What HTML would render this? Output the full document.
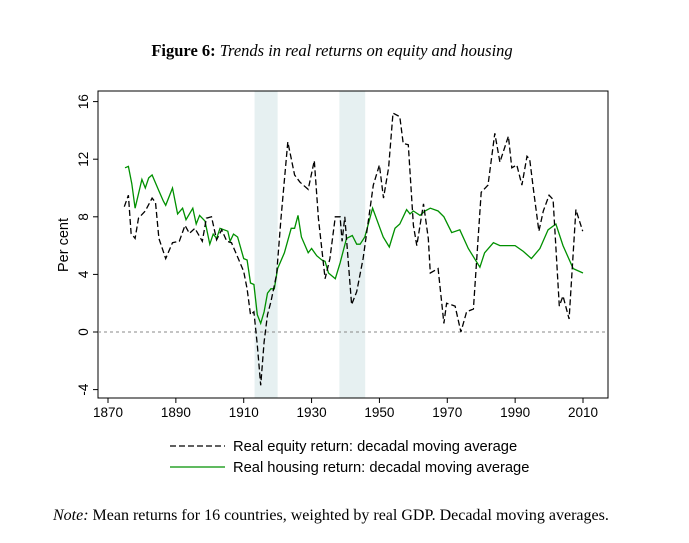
<!DOCTYPE html>
<html><head><meta charset="utf-8"><style>
body{margin:0;background:#fff;}
svg{display:block;}
</style></head><body>
<svg id="chart" width="689" height="543" xmlns="http://www.w3.org/2000/svg">
<text x="332" y="56" text-anchor="middle" font-family="Liberation Serif, serif" font-size="16.5"><tspan font-weight="bold">Figure 6:</tspan> <tspan font-style="italic">Trends in real returns on equity and housing</tspan></text>
<g id="plot"></g>
<text x="53" y="520" font-family="Liberation Serif, serif" font-size="16"><tspan font-style="italic">Note:</tspan> Mean returns for 16 countries, weighted by real GDP. Decadal moving averages.</text>
</svg>
<script>
const yTicks=[-4,0,4,8,12,16];
const xTicks=[1870,1890,1910,1930,1950,1970,1990,2010];
const recessions=[[1913.2,1920],[1938.2,1945.8]];
const equityYears=[1874.8,1876,1876.8,1878,1879,1881,1883,1884,1885,1887,1889,1891,1892.7,1894,1895.6,1897.8,1899,1900.5,1902,1903.5,1905,1906.4,1908.4,1910,1911,1912,1913,1914,1915,1916,1917,1918,1919.7,1921,1923,1925,1926.6,1929,1930.8,1932,1934,1935.4,1937,1938.4,1939,1939.8,1941.8,1943.3,1945.2,1948.2,1950,1951.2,1952.7,1954,1956,1957,1958.5,1960,1961,1963,1964.4,1965,1967.3,1969,1969.8,1972.3,1974,1975.7,1977.7,1980,1982,1984,1985.5,1988,1989,1990.5,1992,1993.5,1994.3,1995.5,1997,1998.3,2000,2001.2,2003,2004.1,2005.9,2007.9,2009.9];
const equityValues=[8.7,9.5,6.85,6.5,7.9,8.4,9.3,9.0,6.5,5.1,6.2,6.3,7.4,6.85,7.2,6.3,7.9,8.0,6.4,7.1,6.3,6.2,5.1,4.2,3.0,1.2,1.4,-0.9,-3.7,-0.7,1.2,2.1,4.0,7.9,13.2,10.9,10.4,9.9,11.9,7.9,3.7,5.1,8.0,8.0,6.3,8.0,1.9,2.8,5.1,10.2,11.6,9.3,11.4,15.2,14.95,13.1,13.0,7.4,6.0,8.9,6.5,4.1,4.4,0.6,2.0,1.8,0.0,1.4,1.6,9.7,10.2,13.8,11.8,13.6,11.4,11.6,10.2,12.2,12.0,9.7,7.0,8.4,9.5,9.2,1.8,2.5,0.9,8.5,7.0];
const housingYears=[1875,1876,1877,1878,1880,1881,1882,1883,1885,1886.3,1887,1889,1890.5,1892,1893,1895,1896,1897,1898.6,1900,1901,1902,1903,1905.3,1906,1907,1908.2,1910,1911,1912,1913,1914,1915,1916,1917,1918,1919,1920,1922,1924,1925,1926,1927,1929,1930,1931.5,1933,1934,1935,1937,1938.4,1940.3,1942,1943.3,1944.3,1945.7,1948,1951.1,1952.9,1954.6,1956,1958,1959,1960,1962,1963.4,1965,1967.3,1969,1971.3,1973.7,1976.2,1979.6,1981,1983.6,1985.5,1990,1992.4,1994.8,1997.3,1999.7,2002,2004.1,2007.1,2010];
const housingValues=[11.4,11.5,10.3,8.6,10.6,10.0,10.7,10.9,9.8,9.1,8.8,10.0,8.2,8.6,7.8,8.6,7.5,8.1,7.7,6.1,6.8,6.5,7.2,7.0,6.3,6.8,6.6,5.1,5.0,3.4,3.3,1.2,0.6,1.4,2.7,3.0,3.0,4.4,5.5,7.2,7.2,8.1,6.6,5.5,5.8,5.3,5.0,4.9,4.1,3.7,4.8,6.5,6.7,6.1,6.1,6.6,8.6,6.6,5.9,7.2,7.5,8.5,8.2,8.4,8.1,8.4,8.6,8.4,8.0,6.9,7.1,5.8,4.5,5.5,6.2,6.0,6.0,5.6,5.1,5.8,7.1,7.5,6.0,4.4,4.1];

const NS='http://www.w3.org/2000/svg';
const L=98,R=608,T=91,B=398;
const xS=y=>108+(y-1870)*(475/140);
const yS=v=>332-v*14.4;
const g=document.getElementById('plot');
function mk(tag,attrs){const e=document.createElementNS(NS,tag);for(const k in attrs)e.setAttribute(k,attrs[k]);g.appendChild(e);return e;}

recessions.forEach(r=>{
  const e=mk('rect',{x:xS(r[0]),y:T,width:xS(r[1])-xS(r[0]),height:B-T,fill:'#e6f0f1'});
  
  
});
const fr=mk('rect',{x:L,y:T,width:R-L,height:B-T,fill:'none',stroke:'#000','stroke-width':1});


const zl=mk('line',{x1:L,x2:R,y1:yS(0),y2:yS(0),stroke:'#888','stroke-width':1,'stroke-dasharray':'3,3'});



yTicks.forEach(t=>{
  const y=yS(t);
  const tk=mk('line',{x1:L-5,x2:L,y1:y,y2:y,stroke:'#000'});
  
  
  const tx=mk('text',{x:88,y:y,transform:`rotate(-90 88 ${y})`,'text-anchor':'middle','font-family':'Liberation Sans, sans-serif','font-size':13.5});
  tx.textContent=t;
  
  
});
xTicks.forEach(t=>{
  const x=xS(t);
  const tk=mk('line',{x1:x,x2:x,y1:B,y2:B+5,stroke:'#000'});
  
  
  const tx=mk('text',{x:x,y:417,'text-anchor':'middle','font-family':'Liberation Sans, sans-serif','font-size':13.5});
  tx.textContent=t;
  
  
});
const yt=mk('text',{x:68,y:245,transform:'rotate(-90 68 245)','text-anchor':'middle','font-family':'Liberation Sans, sans-serif','font-size':14.5});
yt.textContent='Per cent';



const pts=(xs,vs)=>xs.map((x,i)=>xS(x).toFixed(1)+','+yS(vs[i]).toFixed(1)).join(' ');
const hl=mk('polyline',{points:pts(housingYears,housingValues),fill:'none',stroke:'#009000','stroke-width':1.3});


const el=mk('polyline',{points:pts(equityYears,equityValues),fill:'none',stroke:'#000','stroke-width':1.3,'stroke-dasharray':'6,3'});



[['Real equity return: decadal moving average','#000','6,3',446,'legend-entry-equity'],['Real housing return: decadal moving average','#009000','',467,'legend-entry-housing']].forEach(l=>{
  const ln=mk('line',{x1:170,x2:225,y1:l[3],y2:l[3],stroke:l[1],'stroke-width':1.3});
  if(l[2])ln.setAttribute('stroke-dasharray',l[2]);
  
  
  const tx=mk('text',{x:233,y:l[3]+5,'font-family':'Liberation Sans, sans-serif','font-size':14.7});
  tx.textContent=l[0];
  
  
});
</script>
</body></html>
